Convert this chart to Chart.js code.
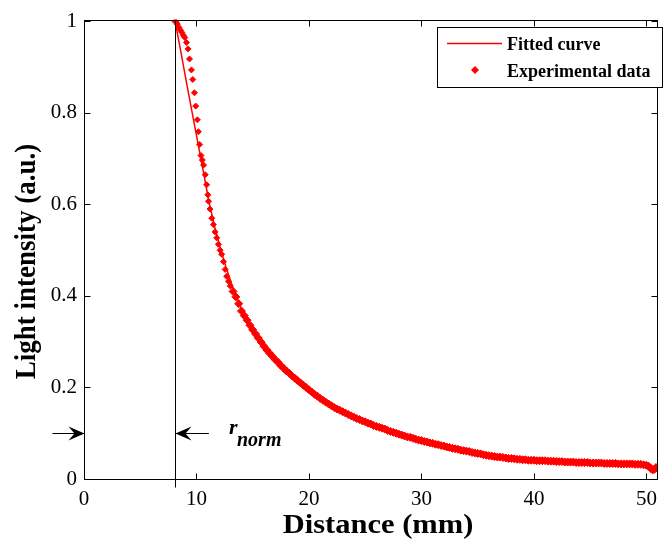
<!DOCTYPE html>
<html><head><meta charset="utf-8">
<script src="https://cdn.jsdelivr.net/npm/chart.js@4.4.1/dist/chart.umd.min.js"></script>
<style>html,body{margin:0;padding:0;background:#fff;}canvas{display:block;}</style>
</head><body>
<canvas id="c" width="665" height="542"></canvas>
<script>
// ---- data ----
const expX = [8.10,8.20,8.30,8.44,8.57,8.70,8.83,8.96,9.11,9.25,9.38,9.55,9.67,9.82,9.93,10.08,10.17,10.28,10.40,10.52,10.63,10.78,10.90,11.01,11.07,11.20,11.36,11.50,11.65,11.80,11.95,12.10,12.24,12.40,12.55,12.68,12.85,
13.00,13.25,13.50,13.75,14.00,14.25,14.50,14.75,15.00,15.25,15.50,15.75,16.00,16.25,16.50,16.75,17.00,17.25,17.50,17.75,18.00,18.25,18.50,18.75,19.00,19.25,19.50,19.75,20.00,20.25,20.50,20.75,21.00,21.25,21.50,21.75,22.00,22.25,22.50,22.75,23.00,23.25,23.50,23.75,24.00,24.25,24.50,24.75,25.00,25.25,25.50,25.75,26.00,26.25,26.50,26.75,27.00,27.25,27.50,27.75,28.00,28.25,28.50,28.75,29.00,29.25,29.50,29.75,30.00,30.25,30.50,30.75,31.00,31.25,31.50,31.75,32.00,32.25,32.50,32.75,33.00,33.25,33.50,33.75,34.00,34.25,34.50,34.75,35.00,35.25,35.50,35.75,36.00,36.25,36.50,36.75,37.00,37.25,37.50,37.75,38.00,38.25,38.50,38.75,39.00,39.25,39.50,39.75,40.00,40.25,40.50,40.75,41.00,41.25,41.50,41.75,42.00,42.25,42.50,42.75,43.00,43.25,43.50,43.75,44.00,44.25,44.50,44.75,45.00,45.25,45.50,45.75,46.00,46.25,46.50,46.75,47.00,47.25,47.50,47.75,48.00,48.25,48.50,48.75,49.00,49.25,49.50,49.75,50.00,50.20,50.40,50.55,50.70,50.85];
const expY = [1.000,0.998,0.994,0.987,0.981,0.976,0.970,0.965,0.954,0.940,0.918,0.894,0.873,0.844,0.815,0.785,0.759,0.731,0.707,0.697,0.686,0.665,0.643,0.621,0.607,0.590,0.570,0.556,0.540,0.527,0.513,0.500,0.491,0.475,0.458,0.443,0.432,
0.422,0.410,0.398,0.383,0.367,0.357,0.347,0.336,0.326,0.317,0.308,0.299,0.290,0.282,0.275,0.268,0.261,0.255,0.248,0.242,0.236,0.231,0.225,0.220,0.215,0.210,0.205,0.200,0.195,0.190,0.185,0.181,0.176,0.172,0.168,0.164,0.160,0.156,0.153,0.150,0.147,0.144,0.141,0.138,0.135,0.132,0.130,0.127,0.125,0.122,0.120,0.117,0.115,0.113,0.111,0.109,0.106,0.104,0.102,0.100,0.098,0.096,0.094,0.092,0.091,0.089,0.087,0.085,0.084,0.082,0.081,0.079,0.078,0.076,0.075,0.073,0.072,0.070,0.069,0.067,0.066,0.065,0.063,0.062,0.061,0.060,0.058,0.057,0.056,0.055,0.053,0.052,0.051,0.050,0.049,0.048,0.048,0.047,0.046,0.045,0.045,0.044,0.043,0.043,0.042,0.042,0.041,0.041,0.041,0.040,0.040,0.040,0.040,0.039,0.039,0.039,0.038,0.038,0.038,0.037,0.037,0.037,0.037,0.036,0.036,0.036,0.036,0.036,0.035,0.035,0.035,0.035,0.035,0.034,0.034,0.034,0.034,0.034,0.033,0.033,0.033,0.033,0.033,0.033,0.032,0.032,0.032,0.031,0.030,0.028,0.023,0.020,0.021,0.025];
const fitX = [8.1,8.6,9.1,9.6,10.1,10.6,11.1,11.6,12.1,12.6,13.1,13.6,14.1,14.6,15.1,15.6,16.5,17.5,18.5,19.5,20.5,22,23.5,25,27,29,31,33,35,37,39,41,43,45,47,49,50.5];
const fitY = [1.0,0.935,0.868,0.803,0.738,0.673,0.607,0.553,0.507,0.465,0.428,0.395,0.366,0.340,0.318,0.301,0.276,0.250,0.226,0.205,0.186,0.161,0.142,0.125,0.106,0.090,0.078,0.066,0.055,0.048,0.043,0.040,0.038,0.036,0.034,0.032,0.030];
const seriesNames = ['Fitted curve','Experimental data'];
const xTicks = [0,10,20,30,40,50];
const xTickLabels = ['0','10','20','30','40','50'];
const yTicks = [0,0.2,0.4,0.6,0.8,1];
const yTickLabels = ['0','0.2','0.4','0.6','0.8','1'];
const xTitle = 'Distance (mm)';
const yTitle = 'Light intensity (a.u.)';
const rNorm = 8.1;
const arrowLevel = 0.1;
const rNormMain = 'r';
const rNormSub = 'norm';

const RED = '#ff0000';
const SERIF = '"Liberation Serif","Times New Roman",serif';

function arrow(ctx, x0, x1, yy){
  const d = x1 > x0 ? 1 : -1;
  ctx.beginPath(); ctx.moveTo(x0, yy); ctx.lineTo(x1, yy); ctx.stroke();
  ctx.beginPath();
  ctx.moveTo(x1, yy);
  ctx.lineTo(x1 - d*16, yy - 7);
  ctx.lineTo(x1 - d*10, yy);
  ctx.lineTo(x1 - d*16, yy + 7);
  ctx.closePath(); ctx.fill();
}

const decor = {
  id: 'decor',
  afterDatasetsDraw(chart){
    const {ctx, chartArea: a, scales: {x, y}} = chart;
    ctx.save();
    ctx.strokeStyle = '#000'; ctx.fillStyle = '#000'; ctx.lineWidth = 1;
    const L = Math.round(a.left) + 0.5, R = Math.round(a.right) - 0.5;
    const T = Math.round(a.top) + 0.5, B = Math.round(a.bottom) + 0.5;
    ctx.strokeRect(L, T, R - L, B - T);
    // inward ticks
    ctx.beginPath();
    xTicks.forEach(v => {
      const px = Math.round(x.getPixelForValue(v)) + 0.5;
      ctx.moveTo(px, B); ctx.lineTo(px, B - 6);
      ctx.moveTo(px, T); ctx.lineTo(px, T + 6);
    });
    yTicks.forEach(v => {
      const py = Math.round(y.getPixelForValue(v)) + 0.5;
      ctx.moveTo(L, py); ctx.lineTo(L + 6, py);
      ctx.moveTo(R, py); ctx.lineTo(R - 6, py);
    });
    ctx.stroke();
    // r_norm vertical line
    const rx = Math.round(x.getPixelForValue(rNorm)) + 0.5;
    ctx.beginPath(); ctx.moveTo(rx, T); ctx.lineTo(rx, B + 8); ctx.stroke();
    // arrows
    const ay = Math.round(y.getPixelForValue(arrowLevel)) + 0.5;
    arrow(ctx, x.getPixelForValue(-2.8), L, ay);
    arrow(ctx, x.getPixelForValue(rNorm + 3), rx, ay);
    // label r_norm
    ctx.textAlign = 'left'; ctx.textBaseline = 'alphabetic';
    ctx.font = 'italic bold 22px ' + SERIF;
    ctx.fillText(rNormMain, x.getPixelForValue(rNorm + 4.8), ay);
    ctx.font = 'italic bold 20px ' + SERIF;
    ctx.fillText(rNormSub, x.getPixelForValue(rNorm + 5.5), ay + 12);
    // legend
    const lx0 = 437.5, ly0 = 27.5, lx1 = 662.5, ly1 = 87.5;
    ctx.fillStyle = '#fff';
    ctx.fillRect(lx0, ly0, lx1 - lx0, ly1 - ly0);
    ctx.strokeRect(lx0, ly0, lx1 - lx0, ly1 - ly0);
    ctx.strokeStyle = RED; ctx.lineWidth = 1.5;
    ctx.beginPath(); ctx.moveTo(447, 43.5); ctx.lineTo(502, 43.5); ctx.stroke();
    ctx.fillStyle = RED;
    ctx.beginPath();
    ctx.moveTo(475, 66); ctx.lineTo(479, 70); ctx.lineTo(475, 74); ctx.lineTo(471, 70);
    ctx.closePath(); ctx.fill();
    ctx.fillStyle = '#000';
    ctx.font = 'bold 18px ' + SERIF;
    ctx.fillText(seriesNames[0], 507, 50);
    ctx.fillText(seriesNames[1], 507, 77);
    // axis titles
    ctx.font = 'bold 27px ' + SERIF;
    ctx.textAlign = 'center'; ctx.textBaseline = 'alphabetic';
    ctx.save();
    ctx.translate(378, 533); ctx.scale(1.13, 1);
    ctx.fillText(xTitle, 0, 0);
    ctx.restore();
    ctx.save();
    ctx.font = 'bold 27px ' + SERIF;
    ctx.translate(35, 261.5); ctx.scale(1.1, 1); ctx.rotate(-Math.PI / 2);
    ctx.fillText(yTitle, 0, 0);
    ctx.restore();
    ctx.restore();
  }
};

new Chart(document.getElementById('c'), {
  type: 'scatter',
  data: {
    datasets: [
      { label: seriesNames[0], data: fitX.map((v, i) => ({x: v, y: fitY[i]})),
        showLine: true, borderColor: RED, borderWidth: 1.5, pointRadius: 0, fill: false, tension: 0 },
      { label: seriesNames[1], data: expX.map((v, i) => ({x: v, y: expY[i]})),
        showLine: false, pointStyle: 'rectRot',
        pointRadius: c => (c.raw && c.raw.x > 13 ? 4 : 3), borderWidth: 1,
        backgroundColor: RED, borderColor: RED }
    ]
  },
  options: {
    responsive: false, animation: false, devicePixelRatio: 1,
    layout: { padding: { top: 18, right: 1, left: 0, bottom: 0 } },
    plugins: { legend: { display: false }, tooltip: { enabled: false } },
    scales: {
      x: {
        type: 'linear', min: 0, max: 51,
        grid: { display: false, drawTicks: false }, border: { display: false },
        afterBuildTicks: s => { s.ticks = xTicks.map(v => ({value: v})); },
        afterFit: s => { s.height = 63; },
        ticks: { padding: 8, color: '#000', font: { family: SERIF, size: 21 },
          callback: (v) => xTickLabels[xTicks.indexOf(v)] }
      },
      y: {
        type: 'linear', min: 0, max: 1.004,
        grid: { display: false, drawTicks: false }, border: { display: false },
        afterBuildTicks: s => { s.ticks = yTicks.map(v => ({value: v})); },
        afterFit: s => { s.width = 84; },
        ticks: { padding: 7, color: '#000', font: { family: SERIF, size: 21 },
          callback: (v) => yTickLabels[yTicks.indexOf(v)] }
      }
    }
  },
  plugins: [decor]
});
</script>
</body></html>
